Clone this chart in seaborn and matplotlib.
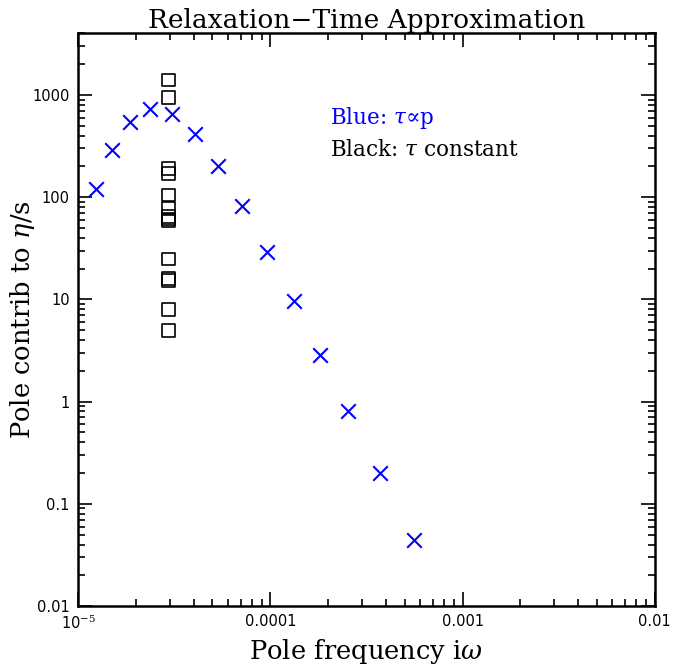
import numpy as np
import pandas as pd
import matplotlib
matplotlib.use("Agg")
import matplotlib.pyplot as plt
import seaborn as sns
from matplotlib.ticker import LogLocator, FixedLocator, FixedFormatter, NullFormatter

# Data
blue_freq = [1.24e-5, 1.50e-5, 1.87e-5, 2.37e-5, 3.09e-5, 4.07e-5, 5.36e-5,
             7.14e-5, 9.64e-5, 1.32e-4, 1.82e-4, 2.55e-4, 3.70e-4, 5.62e-4]
blue_contrib = [120, 290, 545, 730, 652, 416, 202, 82, 29, 9.7, 2.87, 0.81, 0.20, 0.044]

black_freq = [2.95e-5] * 14
black_contrib = [1400, 950, 191, 170, 105, 78, 65, 61, 59, 24.8, 16.0, 15.3, 8.0, 5.0]

xticks = [1e-5, 1e-4, 1e-3, 1e-2]
xticklabels = [r"10$^{-5}$", "0.0001", "0.001", "0.01"]
yticks = [0.01, 0.1, 1, 10, 100, 1000]
yticklabels = ["0.01", "0.1", "1", "10", "100", "1000"]

sns.set_style("ticks")
plt.rcParams['font.family'] = ['DejaVu Serif']
plt.rcParams['mathtext.fontset'] = 'dejavuserif'
plt.rcParams['text.color'] = 'black'
plt.rcParams['axes.labelcolor'] = 'black'

fig = plt.figure(figsize=(6.73, 6.66), dpi=100)
ax = fig.add_axes([0.116, 0.090, 0.857, 0.860])

df_blue = pd.DataFrame({"f": blue_freq, "c": blue_contrib})
df_black = pd.DataFrame({"f": black_freq, "c": black_contrib})

sns.scatterplot(data=df_blue, x="f", y="c", marker="x", color="#0000ff",
                s=110, linewidth=1.5, ax=ax, zorder=3)
sns.scatterplot(data=df_black, x="f", y="c", marker="s", facecolor="none",
                edgecolor="black", s=85, linewidth=1.2, ax=ax, zorder=3)

ax.set_xscale("log")
ax.set_yscale("log")
ax.set_xlim(1e-5, 1e-2)
ax.set_ylim(0.01, 4000)

ax.xaxis.set_major_locator(FixedLocator(xticks))
ax.xaxis.set_major_formatter(FixedFormatter(xticklabels))
ax.yaxis.set_major_locator(FixedLocator(yticks))
ax.yaxis.set_major_formatter(FixedFormatter(yticklabels))
ax.xaxis.set_minor_locator(LogLocator(base=10, subs=np.arange(2, 10), numticks=20))
ax.yaxis.set_minor_locator(LogLocator(base=10, subs=np.arange(2, 10), numticks=20))
ax.xaxis.set_minor_formatter(NullFormatter())
ax.yaxis.set_minor_formatter(NullFormatter())

ax.tick_params(which="both", direction="in", top=True, right=True, width=1.2, colors="black")
ax.tick_params(which="major", length=10, labelsize=10.5, pad=6)
ax.tick_params(which="minor", length=5)
for lab in ax.get_xticklabels() + ax.get_yticklabels():
    lab.set_family(["DejaVu Sans"])
for sp in ax.spines.values():
    sp.set_linewidth(1.8)
    sp.set_color("black")

ax.set_xlabel("Pole frequency i$\\omega$", fontsize=18.5, color="black")
ax.set_ylabel("Pole contrib to $\\eta$/s", fontsize=18.5, color="black")
ax.xaxis.label.set_verticalalignment("baseline")
ax.yaxis.label.set_verticalalignment("baseline")
ax.xaxis.set_label_coords(0.5, -0.0925)
ax.yaxis.set_label_coords(-0.083, 0.5)
ax.set_title("Relaxation\u2212Time Approximation", fontsize=19, pad=4, color="black")

ax.text(0.437, 0.852, "Blue: $\\tau$\u221dp", color="#0000ff", fontsize=15.5,
        transform=ax.transAxes, va="center", ha="left")
ax.text(0.437, 0.796, "Black: $\\tau$ constant", color="black", fontsize=15.5,
        transform=ax.transAxes, va="center", ha="left")

fig.savefig("out.png", dpi=100)
